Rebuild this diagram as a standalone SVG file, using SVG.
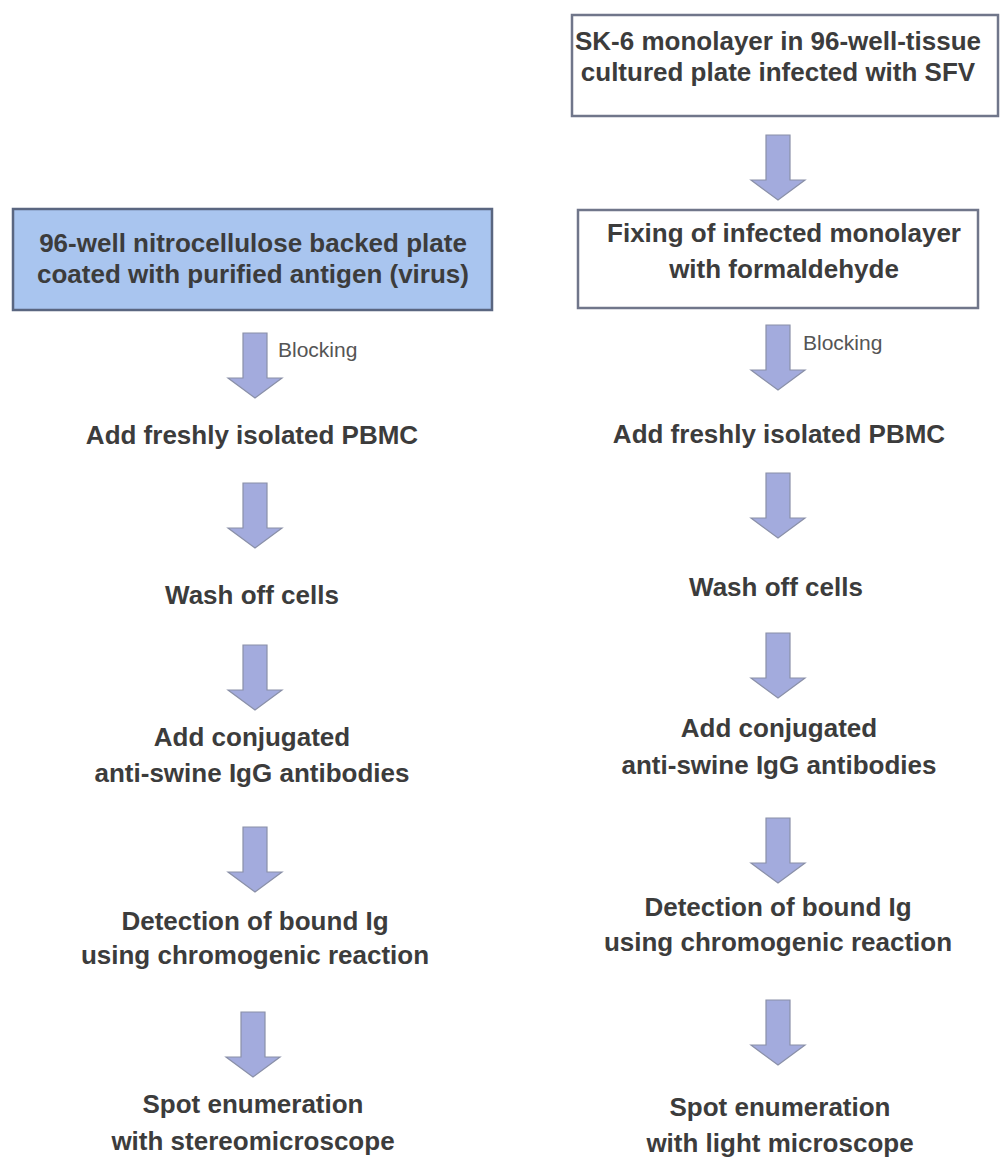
<svg xmlns="http://www.w3.org/2000/svg" xmlns:xlink="http://www.w3.org/1999/xlink" width="1000" height="1158" viewBox="0 0 1000 1158">
<style>
.t{font-family:"Liberation Sans",Arial,sans-serif;font-weight:bold;font-size:26px;fill:#3c3c3c;text-anchor:middle}
.s{font-family:"Liberation Sans",Arial,sans-serif;font-size:21px;fill:#555}
.box{fill:#fff;stroke:#70768a;stroke-width:2.5}
.blue{fill:#a9c5ef;stroke:#5a6680;stroke-width:2.5}
.arr{fill:#a3abdd;stroke:#8a90a8;stroke-width:1.2}
</style>
<defs>
<path id="a" d="M-12,0 H12 V45 H27 L0,65 L-27,45 H-12 Z"/>
</defs>
<rect width="1000" height="1158" fill="#fff"/>
<g id="connectors">
<use xlink:href="#a" class="arr" x="255" y="333"/>
<use xlink:href="#a" class="arr" x="255" y="483"/>
<use xlink:href="#a" class="arr" x="255" y="645"/>
<use xlink:href="#a" class="arr" x="255" y="827"/>
<use xlink:href="#a" class="arr" x="253" y="1012"/>
<use xlink:href="#a" class="arr" x="778" y="135"/>
<use xlink:href="#a" class="arr" x="778" y="325"/>
<use xlink:href="#a" class="arr" x="778" y="473"/>
<use xlink:href="#a" class="arr" x="778" y="633"/>
<use xlink:href="#a" class="arr" x="778" y="818"/>
<use xlink:href="#a" class="arr" x="778" y="1000"/>
<text class="s" x="278" y="357">Blocking</text>
<text class="s" x="803" y="350">Blocking</text>
</g>
<g id="L1">
<rect class="blue" x="13" y="209" width="479" height="101"/>
<text class="t" x="253" y="252">96-well nitrocellulose backed plate</text>
<text class="t" x="253" y="283">coated with purified antigen (virus)</text>
</g>
<g id="L2"><text class="t" x="252" y="444">Add freshly isolated PBMC</text></g>
<g id="L3"><text class="t" x="252" y="604">Wash off cells</text></g>
<g id="L4"><text class="t" x="252" y="746">Add conjugated</text><text class="t" x="252" y="782">anti-swine IgG antibodies</text></g>
<g id="L5"><text class="t" x="255" y="930">Detection of bound Ig</text><text class="t" x="255" y="964">using chromogenic reaction</text></g>
<g id="L6"><text class="t" x="253" y="1113">Spot enumeration</text><text class="t" x="253" y="1150">with stereomicroscope</text></g>
<g id="R1">
<rect class="box" x="572" y="15" width="426" height="101"/>
<text class="t" x="778" y="50">SK-6 monolayer in 96-well-tissue</text>
<text class="t" x="778" y="81">cultured plate infected with SFV</text>
</g>
<g id="R2">
<rect class="box" x="578" y="210" width="400" height="98"/>
<text class="t" x="784" y="242">Fixing of infected monolayer</text>
<text class="t" x="784" y="278">with formaldehyde</text>
</g>
<g id="R3"><text class="t" x="779" y="443">Add freshly isolated PBMC</text></g>
<g id="R4"><text class="t" x="776" y="596">Wash off cells</text></g>
<g id="R5"><text class="t" x="779" y="737">Add conjugated</text><text class="t" x="779" y="774">anti-swine IgG antibodies</text></g>
<g id="R6"><text class="t" x="778" y="916">Detection of bound Ig</text><text class="t" x="778" y="951">using chromogenic reaction</text></g>
<g id="R7"><text class="t" x="780" y="1116">Spot enumeration</text><text class="t" x="780" y="1152">with light microscope</text></g>
</svg>
